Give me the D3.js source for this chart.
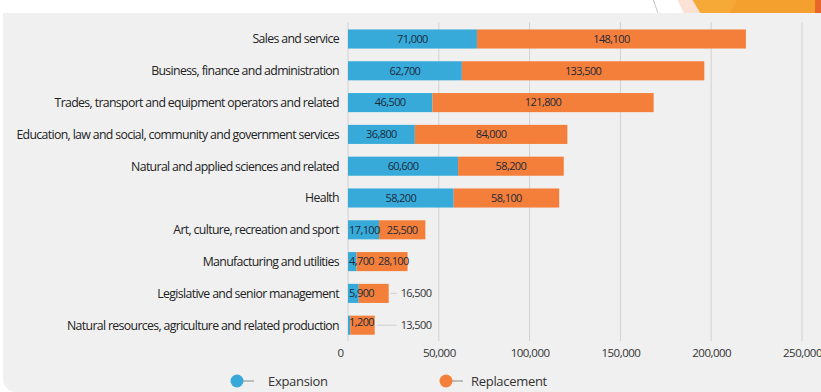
<!DOCTYPE html>
<html>
<head>
<meta charset="utf-8">
<script src="https://cdn.jsdelivr.net/npm/d3@7"></script>
<style>
  html, body { margin: 0; padding: 0; background: #ffffff; }
  svg { display: block; font-family: "Open Sans", "Noto Sans", sans-serif; }
</style>
</head>
<body>
<svg id="chart" width="821" height="392"></svg>
<script>
// Job openings by occupation group: expansion demand vs replacement demand
const categories = [
  "Sales and service",
  "Business, finance and administration",
  "Trades, transport and equipment operators and related",
  "Education, law and social, community and government services",
  "Natural and applied sciences and related",
  "Health",
  "Art, culture, recreation and sport",
  "Manufacturing and utilities",
  "Legislative and senior management",
  "Natural resources, agriculture and related production"
];
const expansion   = [71000, 62700, 46500, 36800, 60600, 58200, 17100, 4700, 5900, 1200];
const replacement = [148100, 133500, 121800, 84000, 58200, 58100, 25500, 28100, 16500, 13500];
const seriesNames = ["Expansion", "Replacement"];
const xTicks = [0, 50000, 100000, 150000, 200000, 250000];

const colors = { Expansion: "#37aada", Replacement: "#f47f3a" };
const fmt = d3.format(",");

const svg = d3.select("#chart");
const W = 821, H = 392;

// decorative circles peeking above the panel
const deco = svg.append("g");
deco.append("clipPath").attr("id", "topClip")
  .append("rect").attr("x", 0).attr("y", 0).attr("width", W).attr("height", 13);
const dg = deco.append("g").attr("clip-path", "url(#topClip)");
dg.append("circle").attr("cx", 844).attr("cy", -60).attr("r", 200)
  .attr("fill", "none").attr("stroke", "#c4c4c4").attr("stroke-width", 1);
dg.append("circle").attr("cx", 815).attr("cy", -60).attr("r", 150).attr("fill", "#fbe2d4");
dg.append("circle").attr("cx", 808).attr("cy", -60).attr("r", 130).attr("fill", "#f6a936");
dg.append("path").attr("d", "M737,0 L821,0 L821,13 L730,13 Z").attr("fill", "#f4a02e");
dg.append("rect").attr("x", 815).attr("y", 0).attr("width", 6).attr("height", 13).attr("fill", "#e9662a");

// grey panel
svg.append("path")
  .attr("d", `M3,13 H${W} V${H} H18 Q3,${H} 3,${H - 15} Z`)
  .attr("fill", "#f0f0f0");

const x = d3.scaleLinear().domain([0, 250000]).range([348, 802]);
const y = d3.scaleBand().domain(categories).range([23.1, 341.1])
  .paddingInner(0.4).paddingOuter(0.2);

// vertical gridlines
svg.append("g").selectAll("line").data(xTicks).join("line")
  .attr("x1", d => x(d)).attr("x2", d => x(d))
  .attr("y1", 22).attr("y2", 341)
  .attr("stroke", "#d2d2d2").attr("stroke-width", 1);

// x axis labels
const xAxis = d3.axisBottom(x).tickValues(xTicks).tickFormat(fmt).tickSize(0).tickPadding(0);
const ax = svg.append("g").attr("transform", "translate(0,349)").call(xAxis);
ax.select(".domain").remove();
ax.selectAll("text").attr("font-size", 11.5).attr("fill", "#333").attr("letter-spacing", -0.5)
  .attr("font-family", "'Open Sans', sans-serif")
  .attr("dx", (d, i) => i === 0 ? -8 : 0);

// category labels
svg.append("g").selectAll("text").data(categories).join("text")
  .attr("x", 339).attr("y", d => y(d) + y.bandwidth() / 2)
  .attr("dy", "0.35em").attr("text-anchor", "end")
  .attr("font-size", 12.3).attr("letter-spacing", -0.65).attr("fill", "#222")
  .text(d => d);

// stacked bars
const rows = categories.map((c, i) => ({ cat: c, Expansion: expansion[i], Replacement: replacement[i] }));
const stack = d3.stack().keys(seriesNames)(rows);

svg.append("g").selectAll("g").data(stack).join("g")
  .attr("fill", s => colors[s.key])
  .selectAll("rect").data(s => s).join("rect")
  .attr("x", d => x(d[0]))
  .attr("y", d => y(d.data.cat))
  .attr("width", d => x(d[1]) - x(d[0]))
  .attr("height", y.bandwidth());

// value labels
const labelG = svg.append("g").attr("font-size", 11).attr("letter-spacing", -0.6).attr("fill", "#1c2a3a");
const approxW = v => fmt(v).length * 5.3;
const outsideX = x(d3.max(rows.filter(r => x(r.Expansion + r.Replacement) - x(r.Expansion) < 34),
  r => r.Expansion + r.Replacement)) + 12;

rows.forEach(r => {
  const cy = y(r.cat) + y.bandwidth() / 2;
  // expansion label
  const e0 = x(0), e1 = x(r.Expansion);
  const ew = approxW(r.Expansion);
  let eEnd;
  if (e1 - e0 >= ew + 4) {
    labelG.append("text").attr("x", (e0 + e1) / 2).attr("y", cy).attr("dy", "0.35em")
      .attr("text-anchor", "middle").text(fmt(r.Expansion));
    eEnd = (e0 + e1) / 2 + ew / 2;
  } else {
    labelG.append("text").attr("x", e0 + 1).attr("y", cy).attr("dy", (e1 - e0) < 4 ? "0.05em" : "0.35em")
      .text(fmt(r.Expansion));
    eEnd = e0 + 1 + ew;
  }
  // replacement label
  const r0 = e1, r1 = x(r.Expansion + r.Replacement);
  const rw = approxW(r.Replacement);
  if (r1 - r0 < 34) {
    labelG.append("line").attr("x1", r1 + 2).attr("x2", outsideX - 4)
      .attr("y1", cy).attr("y2", cy).attr("stroke", "#cfcfcf").attr("stroke-width", 1);
    labelG.append("text").attr("x", outsideX).attr("y", cy).attr("dy", "0.35em")
      .attr("fill", "#333").text(fmt(r.Replacement));
  } else {
    let cx = (r0 + r1) / 2;
    if (cx - rw / 2 < eEnd + 2) cx = eEnd + 2 + rw / 2;
    labelG.append("text").attr("x", cx).attr("y", cy).attr("dy", "0.35em")
      .attr("text-anchor", "middle").text(fmt(r.Replacement));
  }
});

// legend
const legend = svg.append("g").attr("transform", "translate(0,381)");
const legendDotX = [237, 446];
const legendTextX = [268, 471];
seriesNames.forEach((name, i) => {
  const g = legend.append("g");
  g.append("line").attr("x1", legendDotX[i] + 4).attr("x2", legendDotX[i] + 17).attr("y1", 0).attr("y2", 0)
    .attr("stroke", "#9a9a9a").attr("stroke-width", 1.2);
  g.append("circle").attr("cx", legendDotX[i]).attr("r", 6.5).attr("fill", colors[name]);
  g.append("text").attr("x", legendTextX[i]).attr("y", 0).attr("dy", "0.35em")
    .attr("font-size", 13).attr("letter-spacing", -0.3).attr("fill", "#333").text(name);
});
</script>
</body>
</html>
